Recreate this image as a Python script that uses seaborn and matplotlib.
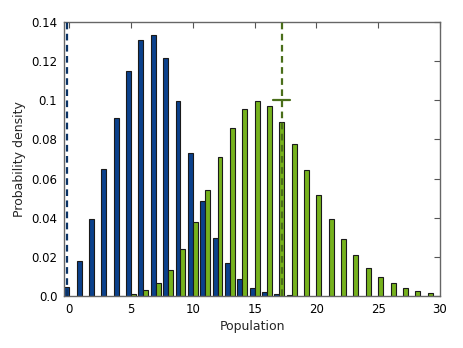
import numpy as np
import pandas as pd
import matplotlib
matplotlib.use("Agg")
import matplotlib.pyplot as plt
import seaborn as sns

# Data
blue_k = list(range(0, 19))
blue_p = [0.0044, 0.0179, 0.0394, 0.065, 0.0911, 0.1149, 0.1306, 0.1333, 0.1217,
          0.0995, 0.0733, 0.0487, 0.0298, 0.0168, 0.0087, 0.0042, 0.0019, 0.0008, 0.0003]
green_k = list(range(4, 30))
green_p = [0.0002, 0.001, 0.0029, 0.0068, 0.0133, 0.0239, 0.0379, 0.0544, 0.0711,
           0.0857, 0.0958, 0.0998, 0.0973, 0.0891, 0.0779, 0.0646, 0.0514, 0.0395,
           0.0291, 0.0209, 0.0145, 0.0097, 0.0066, 0.0041, 0.0026, 0.0016]
blue_mark_x = -0.2
green_mark_x = 17.2
green_mark_y = 0.1
x_ticks = [0, 5, 10, 15, 20, 25, 30]
y_ticks = [0.0, 0.02, 0.04, 0.06, 0.08, 0.1, 0.12, 0.14]
y_labels = ["0.0", "0.02", "0.04", "0.06", "0.08", "0.1", "0.12", "0.14"]

BLUE = "#0b418c"
GREEN = "#76b21d"

df = pd.DataFrame({
    "Population": blue_k + green_k,
    "p": blue_p + green_p,
    "series": ["A"] * len(blue_k) + ["B"] * len(green_k),
})

sns.set_style("white")
plt.rcParams["font.family"] = ["DejaVu Sans"]

fig = plt.figure(figsize=(4.63, 3.48), dpi=100)
ax = fig.add_axes([64.3 / 463, 1 - 296 / 348, (440 - 64.3) / 463, (296 - 22) / 348])

sns.barplot(data=df, x="Population", y="p", hue="series", native_scale=True,
            dodge=True, width=0.8, palette=[BLUE, GREEN], saturation=1,
            edgecolor="#1a1a1a", linewidth=0.8, legend=False, ax=ax, errorbar=None)

ax.axvline(blue_mark_x, color="#0b3466", ls=(0, (3, 2)), lw=1.6, zorder=5)
ax.axvline(green_mark_x, color="#4a6e1a", ls=(0, (3, 2)), lw=1.6, zorder=5)
ax.plot([green_mark_x - 0.7, green_mark_x + 0.7], [green_mark_y, green_mark_y],
        color="#4a6e1a", lw=1.6, zorder=5)

ax.set_xlim(-0.4, 30)
ax.set_ylim(0, 0.14)
ax.set_xticks(x_ticks)
ax.set_xticklabels([str(t) for t in x_ticks])
ax.set_yticks(y_ticks)
ax.set_yticklabels(y_labels)
ax.set_xlabel("Population", fontsize=9, labelpad=3)
ax.set_ylabel("Probability density", fontsize=9, labelpad=4)
ax.tick_params(direction="in", length=4, width=0.8, colors="#555555",
               labelcolor="black", labelsize=8.5, top=True, right=True, pad=5)
for s in ax.spines.values():
    s.set_color("#666666")
    s.set_linewidth(1.0)
    s.set_visible(True)

fig.savefig("out.png", dpi=100)
